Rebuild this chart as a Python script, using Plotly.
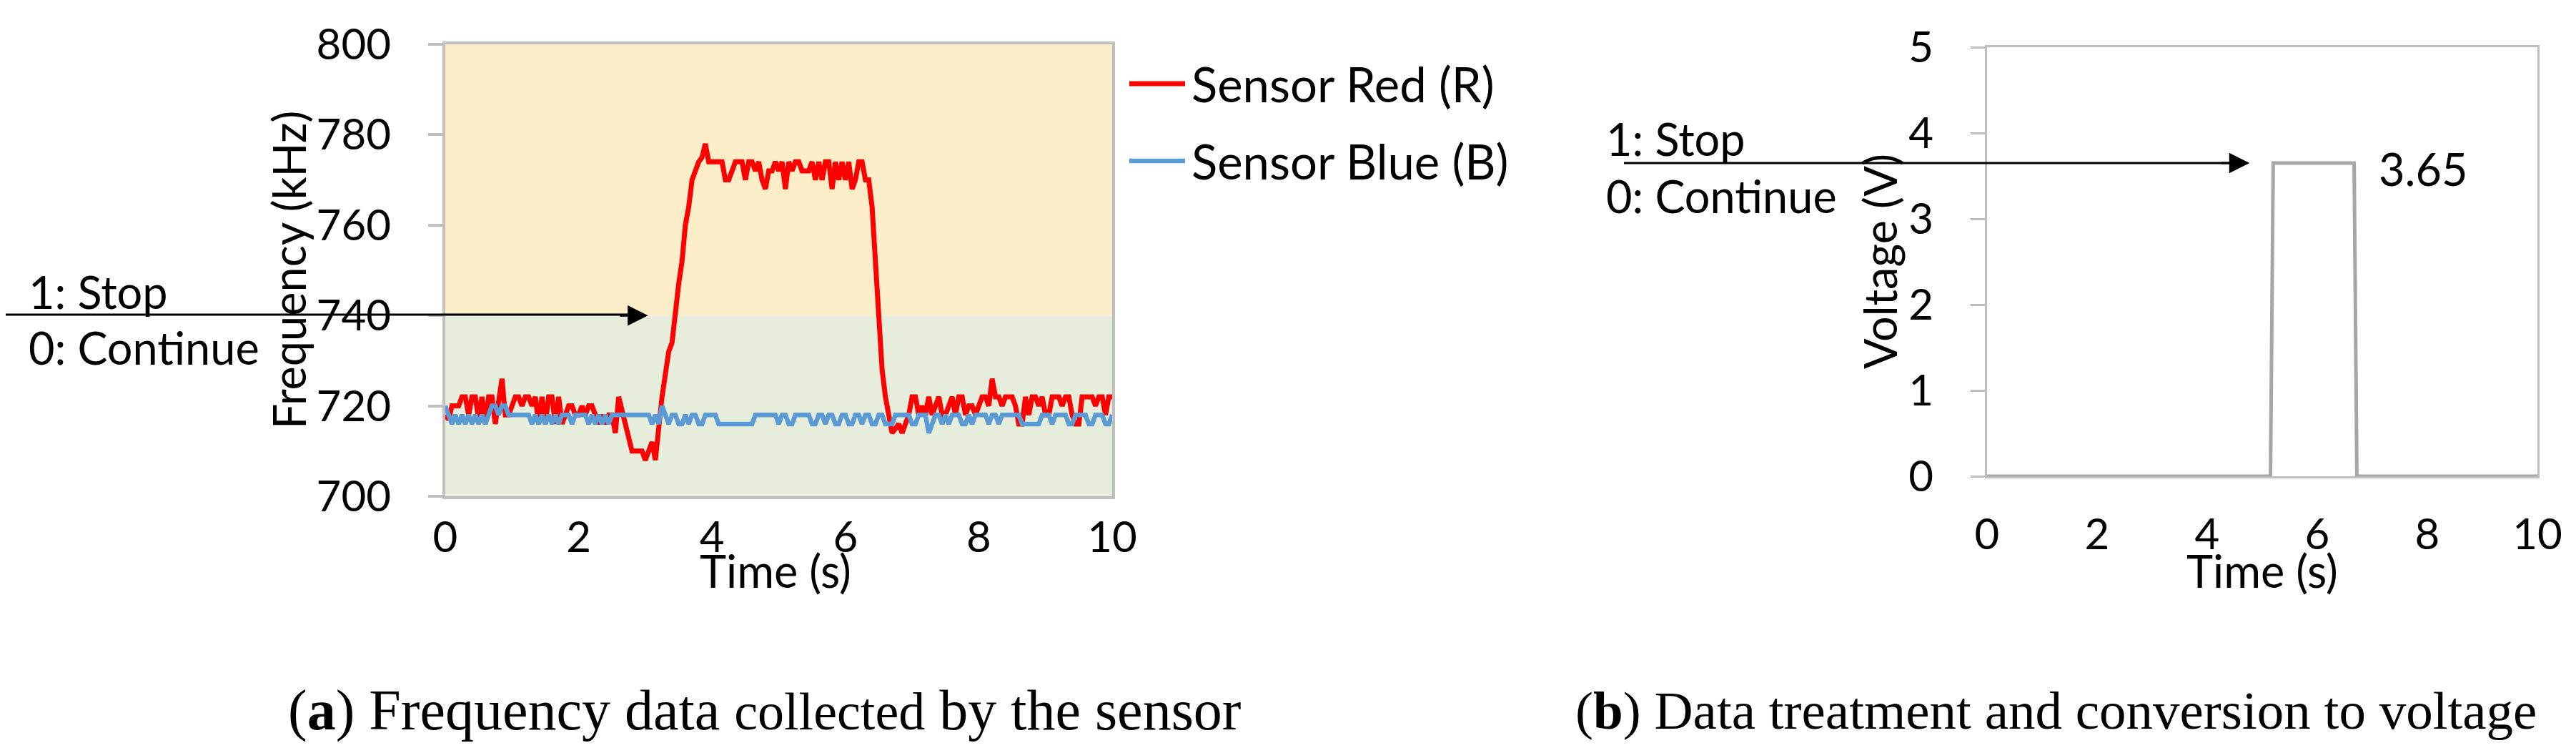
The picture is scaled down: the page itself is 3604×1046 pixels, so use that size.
import plotly.graph_objects as go

# The page body has a default 8px margin; size the figure so it fits the window.
OFF = 8
FW, FH = 3604 - 2 * OFF, 1046 - 2 * OFF

# ---------------- data ----------------
time_s = [round(i * 0.05, 2) for i in range(201)]

sensor_red = [
    718, 717, 720, 720, 720, 722, 722, 718, 722, 722, 717, 722, 716, 722, 722, 716, 722, 726, 718, 718,
    720, 722, 722, 720, 722, 722, 720, 722, 716, 722, 716, 722, 722, 716, 722, 716, 718, 720, 720, 718,
    718, 720, 718, 720, 720, 718, 716, 718, 716, 718, 718, 714, 722, 719, 716, 714, 710, 710, 710, 710,
    708, 710, 712, 708, 716, 722, 727, 732, 734, 742, 747, 752, 760, 764, 770, 772, 774, 775, 778, 774,
    774, 774, 774, 774, 770, 770, 772, 774, 774, 774, 770, 774, 774, 772, 774, 770, 768, 772, 772, 774,
    772, 774, 768, 774, 772, 774, 774, 772, 772, 772, 774, 770, 774, 770, 774, 774, 768, 774, 770, 774,
    770, 774, 768, 770, 774, 774, 770, 770, 764, 752, 740, 728, 722, 718, 714, 715, 716, 714, 716, 718,
    722, 722, 718, 720, 718, 722, 718, 720, 722, 718, 718, 720, 722, 718, 722, 722, 718, 720, 720, 718,
    720, 722, 722, 720, 726, 722, 722, 720, 722, 722, 722, 720, 716, 716, 722, 718, 722, 722, 720, 722,
    718, 718, 722, 722, 722, 720, 722, 722, 718, 716, 716, 722, 722, 722, 722, 720, 722, 722, 718, 722,
    722,
]

sensor_blue = [
    720, 718, 716, 718, 716, 718, 716, 718, 716, 718, 716, 718, 716, 718, 720, 720, 718, 720, 720, 718,
    718, 718, 718, 718, 718, 718, 716, 718, 716, 718, 716, 718, 716, 718, 716, 718, 718, 718, 716, 718,
    718, 718, 718, 716, 718, 716, 718, 716, 718, 716, 718, 718, 718, 718, 718, 718, 718, 718, 718, 718,
    718, 718, 716, 718, 716, 720, 718, 716, 718, 718, 716, 716, 718, 716, 718, 718, 716, 716, 718, 718,
    718, 718, 716, 716, 716, 716, 716, 716, 716, 716, 716, 716, 716, 718, 718, 718, 718, 718, 718, 718,
    716, 718, 718, 716, 716, 718, 718, 718, 718, 718, 716, 716, 718, 718, 716, 718, 718, 716, 716, 718,
    718, 716, 716, 718, 718, 716, 718, 718, 716, 716, 718, 718, 716, 716, 716, 718, 718, 718, 718, 718,
    716, 716, 718, 718, 718, 714, 716, 718, 718, 716, 718, 716, 718, 718, 718, 716, 716, 718, 716, 718,
    718, 718, 718, 716, 718, 718, 716, 718, 718, 718, 718, 718, 718, 716, 716, 716, 716, 716, 716, 718,
    718, 718, 716, 718, 718, 718, 718, 716, 716, 718, 718, 718, 718, 716, 716, 718, 718, 718, 716, 716,
    718,
]

volt_time = [0, 5.15, 5.2, 6.67, 6.72, 10]
voltage = [0, 0, 3.65, 3.65, 0, 0]

freq_ticks = [700, 720, 740, 760, 780, 800]
volt_ticks = [0, 1, 2, 3, 4, 5]
time_ticks = [0, 2, 4, 6, 8, 10]
threshold_freq = 740
stop_voltage = 3.65

# ---------------- layout helpers (window pixel -> paper) ----------------
def px(x):
    return (x - OFF) / FW

def py(y):
    return 1 - (y - OFF) / FH

SANS = "Lato"
SERIF = "Liberation Serif"
FS = 63
TICK_FS = 60
GRAY = "#BFBFBF"

# plot-area pixel boxes (window coordinates)
L_X0, L_X1, L_Y0, L_Y1 = 623, 1556, 62, 694
R_X0, R_X1, R_Y0, R_Y1 = 2780, 3550, 66, 666

fig = go.Figure()

fig.add_trace(go.Scatter(x=time_s, y=sensor_red, mode="lines", name="Sensor Red (R)",
                         line=dict(color="#FF0000", width=7), xaxis="x", yaxis="y",
                         showlegend=False))
fig.add_trace(go.Scatter(x=time_s, y=sensor_blue, mode="lines", name="Sensor Blue (B)",
                         line=dict(color="#5B9BD5", width=6.5), xaxis="x", yaxis="y",
                         showlegend=False))
fig.add_trace(go.Scatter(x=volt_time, y=voltage, mode="lines", name="Voltage",
                         line=dict(color="#A6A6A6", width=5), xaxis="x2", yaxis="y2",
                         showlegend=False))

axis_common = dict(showgrid=False, zeroline=False, showline=True, mirror=True,
                   linecolor=GRAY, automargin=False,
                   tickfont=dict(family=SANS, size=TICK_FS, color="black"))

fig.update_layout(
    width=FW, height=FH,
    margin=dict(l=0, r=0, t=0, b=0, pad=0, autoexpand=False),
    paper_bgcolor="white", plot_bgcolor="white",
    xaxis=dict(domain=[px(L_X0), px(L_X1)], range=[0, 10], tickvals=time_ticks,
               ticks="", ticklabelstandoff=2, anchor="y", linewidth=4, **axis_common),
    yaxis=dict(domain=[py(L_Y1), py(L_Y0)], range=[700, 800], tickvals=freq_ticks,
               ticks="outside", ticklen=20, tickwidth=4, tickcolor=GRAY,
               ticklabelstandoff=40, anchor="x", linewidth=4, **axis_common),
    xaxis2=dict(domain=[px(R_X0), px(R_X1)], range=[0, 10], tickvals=time_ticks,
                ticks="", ticklabelstandoff=27, anchor="y2", linewidth=3, **axis_common),
    yaxis2=dict(domain=[py(R_Y1), py(R_Y0)], range=[0, 5], tickvals=volt_ticks,
                ticks="outside", ticklen=20, tickwidth=3, tickcolor=GRAY,
                ticklabelstandoff=40, anchor="x2", linewidth=3, **axis_common),
)

# background bands (left chart)
fig.add_shape(type="rect", xref="x", yref="y", x0=0, x1=10, y0=threshold_freq, y1=800,
              fillcolor="#FBEDC7", line=dict(width=0), layer="below")
fig.add_shape(type="rect", xref="x", yref="y", x0=0, x1=10, y0=700, y1=threshold_freq,
              fillcolor="#E6EEDB", line=dict(width=0), layer="below")

# manual legend
fig.add_shape(type="line", xref="paper", yref="paper", x0=px(1580), x1=px(1658),
              y0=py(117), y1=py(117), line=dict(color="#FF0000", width=7))
fig.add_shape(type="line", xref="paper", yref="paper", x0=px(1580), x1=px(1658),
              y0=py(225), y1=py(225), line=dict(color="#5B9BD5", width=6.5))

def text(t, x, y, size=FS, xanchor="left", family=SANS, angle=0):
    fig.add_annotation(text=t, xref="paper", yref="paper", x=px(x), y=py(y),
                       xanchor=xanchor, yanchor="middle", showarrow=False,
                       textangle=angle, font=dict(family=family, size=size, color="black"))

text("Sensor Red (R)", 1665, 117, size=67)
text("Sensor Blue (B)", 1665, 225, size=67)

# axis titles
text("Frequency (kHz)", 403, 378, xanchor="center", angle=-90)
text("Time (s)", 1085, 797, xanchor="center")
text("Voltage (V)", 2629, 366, xanchor="center", angle=-90)
text("Time (s)", 3165, 797, xanchor="center")

# stop / continue labels
text("1: Stop", 38, 407)
text("0: Continue", 38, 486)
text("1: Stop", 2245, 194)
text("0: Continue", 2245, 273)
text("3.65", 3326, 235)

# arrows: a long shaft plus an arrowhead annotation pointing at the data point
def arrow(x_tail_px, x_tip, y_val, xref, yref, y_px, x_tip_px):
    fig.add_shape(type="line", xref="paper", yref="paper",
                  x0=px(x_tail_px), x1=px(x_tip_px - 10), y0=py(y_px), y1=py(y_px),
                  line=dict(color="black", width=3))
    fig.add_annotation(text="", x=x_tip, y=y_val, xref=xref, yref=yref,
                       ax=-40, ay=0, axref="pixel", ayref="pixel",
                       showarrow=True, arrowhead=2, arrowsize=1.9, arrowwidth=3,
                       arrowcolor="black", font=dict(size=1), borderpad=0)

arrow(7, 3.04, threshold_freq, "x", "y", 440, 907)
arrow(2272, 4.77, stop_voltage, "x2", "y2", 228, 3147)

# captions
text("(<b>a</b>) Frequency data <span style='font-size:74px'>collected</span> by the sensor",
     1069, 993, size=80, xanchor="center", family=SERIF)
text("(<b>b</b>) Data treatment and conversion to voltage",
     2876, 993, size=75, xanchor="center", family=SERIF)

fig.write_html("out.html")
